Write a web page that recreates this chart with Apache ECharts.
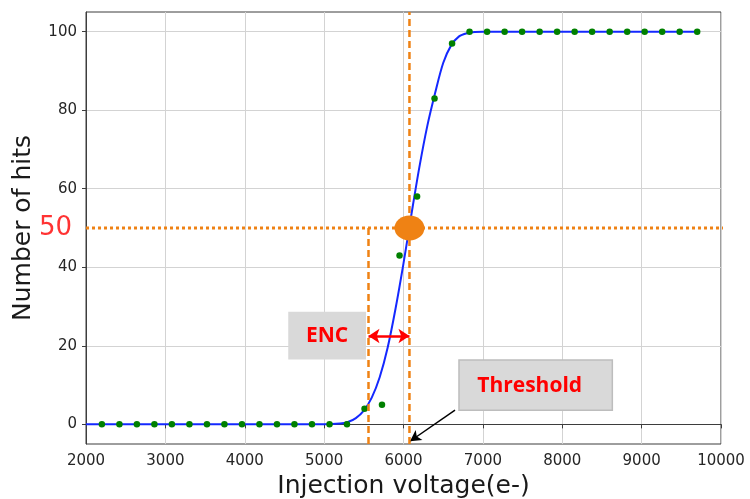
<!DOCTYPE html>
<html>
<head>
<meta charset="utf-8">
<script src="https://cdn.jsdelivr.net/npm/echarts@6/dist/echarts.min.js"></script>
<style>
  html, body { margin: 0; padding: 0; background: #ffffff; }
  #chart { width: 750px; height: 499px; }
</style>
</head>
<body>
<div id="chart"></div>
<script>
// Measured hit counts per injection step
const injection = [2200, 2421, 2641, 2862, 3082, 3303, 3524, 3744, 3965, 4185,
                   4406, 4626, 4847, 5068, 5288, 5509, 5729, 5950, 6171, 6391,
                   6612, 6832, 7053, 7274, 7494, 7715, 7935, 8156, 8376, 8597,
                   8818, 9038, 9259, 9479, 9700];
const hits = [0, 0, 0, 0, 0, 0, 0, 0, 0, 0,
              0, 0, 0, 0, 0, 4, 5, 43, 58, 83,
              97, 100, 100, 100, 100, 100, 100, 100, 100, 100,
              100, 100, 100, 100, 100];

// S-curve fit, sampled along the curve
const fitX = [2000, 3000, 4000, 5000, 5200, 5300, 5400, 5500, 5600, 5700,
              5800, 5900, 6000, 6100, 6200, 6300, 6400, 6500, 6600, 6700,
              6800, 6900, 7000, 8000, 9000, 9700];
const fitY = [0, 0, 0, 0, 0.2, 0.6, 1.6, 3.5, 6.8, 12,
              19.5, 29.5, 41, 53.5, 65.5, 76, 84.5, 92, 96.5, 98.8,
              99.6, 99.9, 100, 100, 100, 100];

// Threshold (50 % point) and the ENC marker position
const halfLevel = 50;
const threshold = 6075;
const encEdge = 5559;

// Axis ticks
const xTicks = [2000, 3000, 4000, 5000, 6000, 7000, 8000, 9000, 10000];
const yTicks = [0, 20, 40, 60, 80, 100];

const ORANGE = '#ef8214';
const RED = '#ff0000';
const TXT = '#262626';
const FONT = 'DejaVu Sans';

const chart = echarts.init(document.getElementById('chart'), null, { renderer: 'canvas' });

const option = {
  animation: false,
  backgroundColor: '#ffffff',
  grid: {
    left: 86, right: 29, top: 12, bottom: 55,
    show: true, borderColor: '#3d3d3d', borderWidth: 1,
    outerBoundsMode: 'none'
  },
  xAxis: {
    type: 'value',
    min: xTicks[0], max: xTicks[xTicks.length - 1], interval: 1000,
    name: 'Injection voltage(e-)',
    nameLocation: 'middle', nameGap: 28,
    nameTextStyle: { fontSize: 25, color: '#1a1a1a', fontFamily: FONT },
    axisLine: { show: true, lineStyle: { color: '#3d3d3d', width: 1 } },
    axisTick: { show: true, inside: false, length: 4, lineStyle: { color: '#3d3d3d' } },
    axisLabel: {
      fontSize: 15, color: TXT, fontFamily: FONT, margin: 10,
      showMinLabel: true, showMaxLabel: true,
      formatter: v => String(v)
    },
    splitLine: { show: true, lineStyle: { color: '#d3d3d3', width: 1 } }
  },
  yAxis: {
    type: 'value',
    min: -5, max: 105,
    name: 'Number of hits',
    nameLocation: 'middle', nameGap: 50,
    nameTextStyle: { fontSize: 25, color: '#1a1a1a', fontFamily: FONT },
    axisLine: { show: true, lineStyle: { color: '#3d3d3d', width: 1 } },
    axisTick: { show: true, inside: false, length: 4, customValues: yTicks, lineStyle: { color: '#3d3d3d' } },
    axisLabel: { fontSize: 15, color: TXT, fontFamily: FONT, margin: 9, customValues: yTicks },
    splitLine: { show: true, lineStyle: { color: '#d3d3d3', width: 1 } }
  },
  series: [
    {
      // annotation boxes
      type: 'line',
      data: [],
      z: 1,
      markArea: {
        silent: true,
        data: [
          [
            { coord: [4548, 28.7], itemStyle: { color: '#d9d9d9', opacity: 1 },
              label: { show: true, position: 'inside', formatter: 'ENC', color: RED,
                       fontSize: 21, fontWeight: 'bold', fontFamily: 'Open Sans' } },
            { coord: [5527, 16.5] }
          ],
          [
            { coord: [6699, 16.4], itemStyle: { color: '#d9d9d9', opacity: 1, borderColor: '#bdbdbd', borderWidth: 1.5 },
              label: { show: true, position: 'inside', formatter: 'Threshold', color: RED, offset: [-6, 1],
                       fontSize: 21, fontWeight: 'bold', fontFamily: 'Open Sans' } },
            { coord: [8631, 3.6] }
          ]
        ]
      }
    },
    {
      name: 'fit',
      type: 'line',
      data: fitX.map((x, i) => [x, fitY[i]]),
      smooth: 0.3,
      symbol: 'none',
      z: 3,
      lineStyle: { color: '#1428ff', width: 2 }
    },
    {
      name: 'hits',
      type: 'scatter',
      data: injection.map((x, i) => [x, hits[i]]),
      symbol: 'circle',
      symbolSize: 6.5,
      z: 4,
      itemStyle: { color: '#008000', opacity: 1 }
    },
    {
      // 50 % level
      type: 'line',
      data: [[1849, halfLevel], [10076, halfLevel]],
      clip: false,
      symbol: 'none',
      z: 5,
      lineStyle: { color: ORANGE, width: 3, type: [3, 3] }
    },
    {
      // label of the 50 % level
      type: 'scatter',
      data: [[1849, halfLevel]],
      clip: false,
      symbolSize: 0,
      z: 6,
      label: {
        show: true, position: 'left', distance: 2,
        formatter: p => String(p.value[1]),
        color: RED, fontSize: 26, fontFamily: FONT
      }
    },
    {
      // threshold marker line
      type: 'line',
      data: [[threshold, -5], [threshold, 105]],
      clip: false,
      symbol: 'none',
      z: 5,
      lineStyle: { color: ORANGE, width: 2.5, type: [7, 4] }
    },
    {
      // ENC edge
      type: 'line',
      data: [[encEdge, halfLevel], [encEdge, -5]],
      clip: false,
      symbol: 'none',
      z: 5,
      lineStyle: { color: ORANGE, width: 2.5, type: [7, 4] }
    },
    {
      // ENC width arrow and threshold pointer
      type: 'line',
      data: [],
      z: 7,
      markLine: {
        silent: true,
        label: { show: false },
        data: [
          [
            { coord: [encEdge, 22.5], symbol: 'arrow', symbolSize: [11, 11],
              lineStyle: { color: RED, width: 2.5, type: 'solid' } },
            { coord: [threshold, 22.5], symbol: 'arrow', symbolSize: [11, 11] }
          ],
          [
            { coord: [6649, 3.6], symbol: 'none',
              lineStyle: { color: '#000000', width: 1.5, type: 'solid' } },
            { coord: [6082, -4.3], symbol: 'arrow', symbolSize: [9, 11] }
          ]
        ]
      }
    },
    {
      // threshold point
      type: 'scatter',
      data: [[threshold, halfLevel]],
      symbol: 'circle',
      symbolSize: [30, 25],
      z: 8,
      itemStyle: { color: ORANGE, opacity: 1 }
    }
  ]
};

chart.setOption(option);
</script>
</body>
</html>
